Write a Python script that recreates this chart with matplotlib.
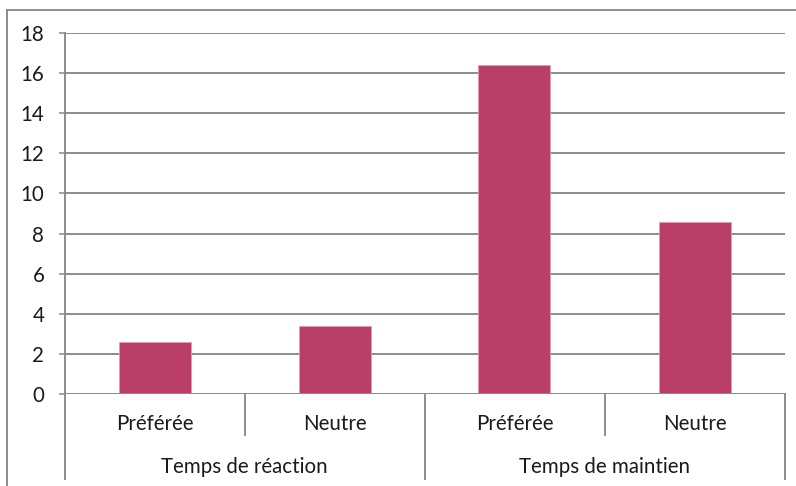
import matplotlib
matplotlib.use("Agg")
import matplotlib.pyplot as plt
from matplotlib.lines import Line2D
from matplotlib.transforms import blended_transform_factory

plt.rcParams['font.family'] = ['Lato', 'DejaVu Sans']

# Data
groups = ["Temps de réaction", "Temps de maintien"]
subcats = ["Préférée", "Neutre", "Préférée", "Neutre"]
values = [2.6, 3.4, 16.4, 8.6]
yticks = [0, 2, 4, 6, 8, 10, 12, 14, 16, 18]

W, H = 796, 486
fig = plt.figure(figsize=(W / 100, H / 100), dpi=100)

# Plot area in pixels
x0, x1 = 64.5, 784.5
y_bot, y_top = 394, 33
ax = fig.add_axes([x0 / W, (H - y_bot) / H, (x1 - x0) / W, (y_bot - y_top) / H])

bar_color = "#B93E68"
grid_color = "#8C8C8C"
text_color = "#1a1a1a"
fs = 14.8
n = len(values)
xs = [i + 0.5 for i in range(n)]
ax.bar(xs, values, width=0.4, color=bar_color, edgecolor="#E59AB5",
       linewidth=0.6, zorder=3)

ax.set_xlim(0, n)
ax.set_ylim(0, 18)
ax.set_yticks(yticks)
ax.set_yticklabels([str(t) for t in yticks], fontsize=fs, color=text_color)
ax.yaxis.grid(True, color=grid_color, linewidth=1.4, zorder=1)
ax.set_xticks([])
ax.tick_params(axis='y', length=4.5, width=1.1, color=grid_color, pad=10)
for s in ["top", "right", "bottom"]:
    ax.spines[s].set_visible(False)
ax.spines["left"].set_color(grid_color)
ax.spines["left"].set_linewidth(1.4)
ax.axhline(0, color=grid_color, linewidth=1.4, zorder=4)

# Multi-level category axis below the plot
trans = blended_transform_factory(ax.transData, ax.transAxes)
ph = y_bot - y_top
sub_depth = -(435 - y_bot) / ph
grp_depth = -(479 - y_bot) / ph
sub_label_y = -(424 - y_bot) / ph
grp_label_y = -(467 - y_bot) / ph

# left axis extension and group dividers
for xb in [0, 2, 4]:
    ax.add_line(Line2D([xb, xb], [0, grp_depth], transform=trans, color=grid_color,
                       linewidth=1.4, clip_on=False))
# sub-category dividers
for xb in [1, 3]:
    ax.add_line(Line2D([xb, xb], [0, sub_depth], transform=trans, color=grid_color,
                       linewidth=1.4, clip_on=False))

for x, lab in zip(xs, subcats):
    ax.text(x, sub_label_y, lab, transform=trans, ha="center", va="center",
            fontsize=fs, color=text_color)
for i, g in enumerate(groups):
    ax.text(2 * i + 1, grp_label_y, g, transform=trans, ha="center", va="center",
            fontsize=fs, color=text_color)

# Chart area border (top and left edges)
fig.add_artist(Line2D([7 / W, 1], [1 - 10 / H, 1 - 10 / H], transform=fig.transFigure,
                      color=grid_color, linewidth=1.4))
fig.add_artist(Line2D([7 / W, 7 / W], [0, 1 - 10 / H], transform=fig.transFigure,
                      color=grid_color, linewidth=1.4))

fig.savefig("out.png", dpi=100)
